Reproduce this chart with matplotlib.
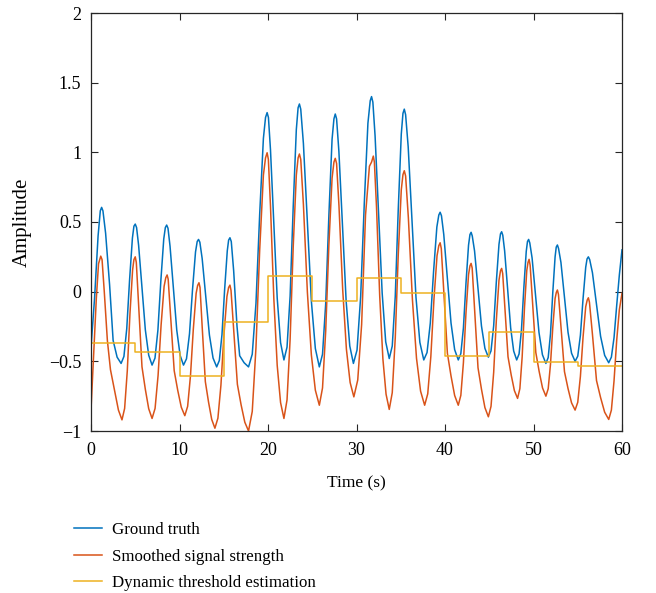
import matplotlib
matplotlib.use("Agg")
import matplotlib.pyplot as plt

plt.rcParams['font.family'] = ['Liberation Serif', 'DejaVu Serif']
plt.rcParams['font.size'] = 12

# ground truth
truth_t = [0.0, 0.4, 0.8, 1.05, 1.2, 1.35,
	1.65, 2.1, 2.5, 2.95, 3.4,
	3.72, 4.04, 4.36, 4.68, 4.85, 5.0, 5.15,
	5.38, 5.76, 6.14, 6.52, 6.9,
	7.23, 7.56, 7.89, 8.22, 8.4, 8.55, 8.7,
	8.93, 9.31, 9.69, 10.07, 10.45,
	10.79, 11.13, 11.47, 11.81, 12.0, 12.15, 12.3,
	12.56, 12.97, 13.38, 13.79, 14.2,
	14.5, 14.8, 15.1, 15.4, 15.55, 15.7, 15.85,
	16.12, 16.5, 16.8, 17.3, 17.8,
	18.22, 18.64, 19.06, 19.48, 19.72, 19.9, 20.05,
	20.28, 20.66, 21.04, 21.42, 21.8,
	22.15, 22.5, 22.85, 23.2, 23.4, 23.55, 23.7,
	24.0, 24.45, 24.9, 25.35, 25.8,
	26.16, 26.52, 26.88, 27.24, 27.45, 27.6, 27.75,
	28.01, 28.42, 28.83, 29.24, 29.65,
	30.06, 30.47, 30.88, 31.29, 31.55, 31.7, 31.85,
	32.1, 32.5, 32.9, 33.3, 33.7,
	34.04, 34.38, 34.72, 35.06, 35.25, 35.4, 35.55,
	35.84, 36.28, 36.72, 37.16, 37.6,
	37.97, 38.34, 38.71, 39.08, 39.3, 39.45, 39.6,
	39.86, 40.27, 40.68, 41.09, 41.5,
	41.79, 42.08, 42.37, 42.66, 42.82, 42.95, 43.08,
	43.34, 43.73, 44.12, 44.51, 44.9,
	45.2, 45.5, 45.8, 46.1, 46.27, 46.4, 46.53,
	46.74, 47.08, 47.42, 47.76, 48.1,
	48.37, 48.64, 48.91, 49.18, 49.32, 49.45, 49.58,
	49.84, 50.23, 50.62, 51.01, 51.4,
	51.66, 51.92, 52.18, 52.44, 52.57, 52.7, 52.83,
	53.1, 53.5, 53.9, 54.3, 54.7,
	55.0, 55.3, 55.6, 55.9, 56.05, 56.2, 56.35,
	56.66, 57.12, 57.58, 58.04, 58.5,
	58.8, 59.1, 59.4, 59.7, 60.0]
truth_v = [-0.40, -0.05, 0.40, 0.58, 0.605, 0.58,
	0.42, 0.05, -0.35, -0.47, -0.515,
	-0.465, -0.265, 0.085, 0.385, 0.47, 0.485, 0.46,
	0.333, 0.03, -0.274, -0.456, -0.527,
	-0.477, -0.276, 0.076, 0.378, 0.46, 0.478, 0.455,
	0.327, 0.026, -0.276, -0.457, -0.527,
	-0.482, -0.302, 0.014, 0.285, 0.36, 0.375, 0.355,
	0.238, -0.037, -0.311, -0.476, -0.54,
	-0.494, -0.308, 0.016, 0.294, 0.37, 0.387, 0.36,
	0.15, -0.25, -0.46, -0.51, -0.54,
	-0.449, -0.084, 0.555, 1.10, 1.25, 1.285, 1.25,
	1.019, 0.486, -0.046, -0.366, -0.49,
	-0.398, -0.031, 0.612, 1.163, 1.32, 1.347, 1.31,
	1.064, 0.498, -0.068, -0.408, -0.54,
	-0.449, -0.086, 0.549, 1.094, 1.24, 1.275, 1.24,
	1.007, 0.47, -0.068, -0.39, -0.515,
	-0.419, -0.036, 0.634, 1.209, 1.37, 1.40, 1.36,
	1.118, 0.554, -0.01, -0.36, -0.48,
	-0.39, -0.033, 0.594, 1.131, 1.28, 1.31, 1.27,
	1.04, 0.5, -0.04, -0.364, -0.49,
	-0.437, -0.225, 0.146, 0.464, 0.55, 0.57, 0.545,
	0.411, 0.093, -0.225, -0.416, -0.49,
	-0.444, -0.261, 0.06, 0.334, 0.41, 0.426, 0.40,
	0.292, 0.023, -0.246, -0.407, -0.47,
	-0.425, -0.245, 0.07, 0.34, 0.415, 0.43, 0.405,
	0.292, 0.016, -0.26, -0.426, -0.49,
	-0.447, -0.274, 0.029, 0.289, 0.36, 0.375, 0.35,
	0.242, -0.026, -0.293, -0.453, -0.515,
	-0.473, -0.303, -0.005, 0.25, 0.32, 0.335, 0.31,
	0.21, -0.041, -0.291, -0.442, -0.50,
	-0.463, -0.313, -0.05, 0.175, 0.235, 0.25, 0.23,
	0.136, -0.092, -0.32, -0.457, -0.51,
	-0.47, -0.33, -0.10, 0.12, 0.30]

# smoothed signal strength
smooth_t = [0.0, 0.3, 0.6, 0.85, 1.1, 1.25,
	1.5, 1.85, 2.2, 2.7, 3.1, 3.5,
	3.8, 4.1, 4.4, 4.7, 4.85, 5.0, 5.12,
	5.38, 5.76, 6.14, 6.52, 6.9,
	7.24, 7.58, 7.92, 8.26, 8.45, 8.6, 8.72,
	9.0, 9.4, 9.8, 10.2, 10.6,
	10.92, 11.24, 11.56, 11.88, 12.05, 12.2, 12.32,
	12.56, 12.92, 13.28, 13.64, 14.0,
	14.34, 14.68, 15.02, 15.36, 15.55, 15.7, 15.82,
	16.12, 16.54, 16.96, 17.38, 17.8,
	18.22, 18.64, 19.06, 19.48, 19.72, 19.9, 20.04,
	20.28, 20.66, 21.04, 21.42, 21.8,
	22.15, 22.5, 22.85, 23.2, 23.4, 23.55, 23.7,
	24.0, 24.45, 24.9, 25.35, 25.8,
	26.16, 26.52, 26.88, 27.24, 27.45, 27.6, 27.75,
	28.02, 28.44, 28.86, 29.28, 29.7,
	30.14, 30.58, 31.02, 31.46, 31.7, 31.9, 32.02,
	32.26, 32.62, 32.98, 33.34, 33.7,
	34.04, 34.38, 34.72, 35.06, 35.25, 35.4, 35.55,
	35.86, 36.32, 36.78, 37.24, 37.7,
	38.05, 38.4, 38.75, 39.1, 39.3, 39.45, 39.58,
	39.86, 40.27, 40.68, 41.09, 41.5,
	41.79, 42.08, 42.37, 42.66, 42.82, 42.95, 43.07,
	43.34, 43.73, 44.12, 44.51, 44.9,
	45.2, 45.5, 45.8, 46.1, 46.27, 46.4, 46.52,
	46.76, 47.12, 47.48, 47.84, 48.2,
	48.46, 48.72, 48.98, 49.24, 49.38, 49.5, 49.62,
	49.88, 50.26, 50.64, 51.02, 51.4,
	51.66, 51.92, 52.18, 52.44, 52.58, 52.7, 52.82,
	53.1, 53.5, 53.9, 54.3, 54.7,
	55.0, 55.3, 55.6, 55.9, 56.07, 56.2, 56.32,
	56.66, 57.12, 57.58, 58.04, 58.5,
	58.8, 59.1, 59.4, 59.7, 60.0]
smooth_v = [-0.85, -0.45, -0.05, 0.20, 0.255, 0.23,
	0.0, -0.35, -0.56, -0.72, -0.85, -0.92,
	-0.838, -0.569, -0.16, 0.156, 0.23, 0.25, 0.21,
	-0.098, -0.539, -0.701, -0.84, -0.91,
	-0.838, -0.601, -0.24, 0.038, 0.10, 0.12, 0.09,
	-0.183, -0.567, -0.708, -0.829, -0.89,
	-0.823, -0.604, -0.27, -0.012, 0.045, 0.064, 0.03,
	-0.249, -0.646, -0.792, -0.917, -0.98,
	-0.908, -0.672, -0.312, -0.035, 0.03, 0.047, 0.01,
	-0.267, -0.665, -0.812, -0.937, -1.0,
	-0.86, -0.401, 0.298, 0.837, 0.96, 0.997, 0.95,
	0.616, -0.052, -0.529, -0.796, -0.91,
	-0.777, -0.341, 0.324, 0.836, 0.96, 0.988, 0.95,
	0.627, -0.004, -0.454, -0.707, -0.815,
	-0.691, -0.283, 0.337, 0.815, 0.93, 0.957, 0.92,
	0.615, 0.015, -0.413, -0.652, -0.755,
	-0.634, -0.236, 0.55, 0.90, 0.93, 0.973, 0.93,
	0.609, -0.027, -0.481, -0.736, -0.845,
	-0.725, -0.331, 0.268, 0.731, 0.84, 0.868, 0.83,
	0.531, -0.058, -0.478, -0.714, -0.815,
	-0.733, -0.465, -0.057, 0.258, 0.33, 0.351, 0.31,
	0.001, -0.442, -0.605, -0.745, -0.815,
	-0.744, -0.51, -0.153, 0.122, 0.185, 0.203, 0.17,
	-0.127, -0.546, -0.70, -0.832, -0.898,
	-0.823, -0.579, -0.206, 0.082, 0.15, 0.167, 0.13,
	-0.113, -0.467, -0.598, -0.71, -0.766,
	-0.696, -0.467, -0.117, 0.152, 0.21, 0.232, 0.19,
	-0.063, -0.436, -0.573, -0.691, -0.75,
	-0.697, -0.521, -0.255, -0.049, -0.005, 0.012, -0.02,
	-0.247, -0.574, -0.695, -0.798, -0.85,
	-0.794, -0.608, -0.326, -0.108, -0.06, -0.044, -0.075,
	-0.306, -0.638, -0.76, -0.865, -0.917,
	-0.85, -0.64, -0.35, -0.13, -0.012]

# threshold, one value per 5 s window
thr_t = [0, 5, 10, 15, 20, 25, 30, 35, 40, 45, 50, 55, 60]
thr_v = [-0.371, -0.436, -0.606, -0.216, 0.112, -0.067, 0.10, -0.012,
	-0.462, -0.288, -0.503, -0.532, -0.532]

labels = ["Ground truth", "Smoothed signal strength", "Dynamic threshold estimation"]

fig = plt.figure(figsize=(6.56, 5.93), dpi=100)
ax = fig.add_axes([91/656, 1 - 431/593, (622 - 91)/656, (431 - 13)/593])

ax.plot(truth_t, truth_v, color="#0072BD", lw=1.1, label=labels[0])
ax.plot(smooth_t, smooth_v, color="#D95319", lw=1.1, label=labels[1])
ax.plot(thr_t, thr_v, color="#EDB120", lw=1.1, drawstyle="steps-post", label=labels[2])

ax.set_xlim(0, 60)
ax.set_ylim(-1, 2)
ax.set_xticks(range(0, 61, 10))
ax.set_yticks([-1, -0.5, 0, 0.5, 1, 1.5, 2])
ax.set_yticklabels(["\u22121", "\u22120.5", "0", "0.5", "1", "1.5", "2"])
ax.tick_params(direction="in", top=True, right=True, length=5, width=0.8,
	colors="#262626", labelcolor="black", labelsize=13)
ax.tick_params(axis="x", pad=8)
ax.tick_params(axis="y", pad=7)
for s in ax.spines.values():
	s.set_color("#262626")
	s.set_linewidth(0.9)

ax.set_xlabel("Time (s)", fontsize=12.5, labelpad=12)
ax.set_ylabel("Amplitude", fontsize=15, labelpad=12)

fig.legend(loc="upper left", bbox_to_anchor=(74/656, 1 - 522/593), frameon=False,
	borderpad=0, borderaxespad=0, handlelength=1.65, handletextpad=0.6,
	labelspacing=0.62, fontsize=12.2)

fig.savefig("out.png", dpi=100)
